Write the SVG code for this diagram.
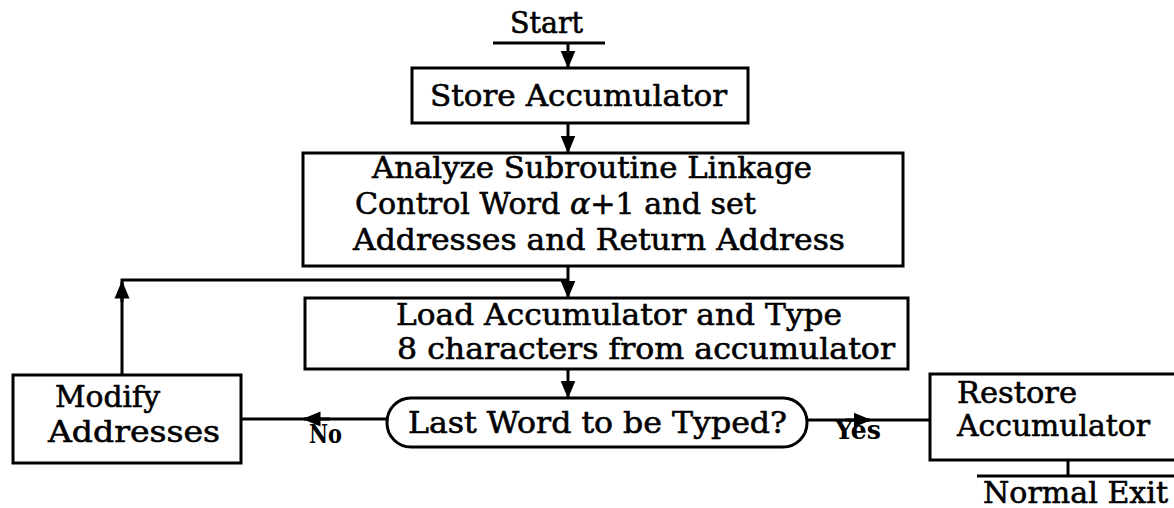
<svg xmlns="http://www.w3.org/2000/svg" width="1174" height="508" viewBox="0 0 1174 508">
<style>
.box{fill:#fff;stroke:#000;stroke-width:3}
.t{font-family:"DejaVu Serif","Liberation Serif",serif;font-size:30px;fill:#000;stroke:#000;stroke-width:0.6}
.lbl{font-family:"DejaVu Serif","Liberation Serif",serif;font-size:26px;font-weight:bold;fill:#000}
.c{stroke:#000;stroke-width:3;fill:none}
</style>
<defs>
<marker id="ah" viewBox="0 0 12 12" refX="11" refY="6" markerWidth="6" markerHeight="6" orient="auto" markerUnits="strokeWidth">
<path d="M0,1 L12,6 L0,11 z" fill="#000"/>
</marker>
</defs>
<rect width="1174" height="508" fill="#fff"/>
<g id="connectors">
<line class="c" x1="568" y1="43" x2="568" y2="67" marker-end="url(#ah)"/>
<line class="c" x1="568" y1="123" x2="568" y2="152" marker-end="url(#ah)"/>
<line class="c" x1="568" y1="266" x2="568" y2="297" marker-end="url(#ah)"/>
<polyline class="c" points="122,375 122,280 568,280"/>
<line class="c" x1="122" y1="302" x2="122" y2="282" marker-end="url(#ah)"/>
<line class="c" x1="568" y1="369" x2="568" y2="397" marker-end="url(#ah)"/>
<line class="c" x1="387" y1="419" x2="241" y2="419"/>
<line class="c" x1="330" y1="419" x2="304" y2="419" marker-end="url(#ah)"/>
<line class="c" x1="807" y1="420" x2="930" y2="420"/>
<line class="c" x1="845" y1="420" x2="870" y2="420" marker-end="url(#ah)"/>
<line class="c" x1="1068" y1="460" x2="1068" y2="476"/>
<text class="lbl" x="309" y="443" textLength="33" lengthAdjust="spacingAndGlyphs">No</text>
<text class="lbl" x="835" y="439" textLength="46" lengthAdjust="spacingAndGlyphs">Yes</text>
</g>
<g id="start">
<text class="t" x="510" y="33" font-size="26" textLength="73" lengthAdjust="spacingAndGlyphs">Start</text>
<line class="c" x1="493" y1="43" x2="605" y2="43"/>
</g>
<g id="store">
<rect class="box" x="412" y="68" width="336" height="55"/>
<text class="t" x="430" y="106" textLength="297" lengthAdjust="spacingAndGlyphs">Store Accumulator</text>
</g>
<g id="analyze">
<rect class="box" x="303" y="153" width="600" height="113"/>
<text class="t" x="372" y="178" textLength="440" lengthAdjust="spacingAndGlyphs">Analyze Subroutine Linkage</text>
<text class="t" x="355" y="214" textLength="401" lengthAdjust="spacingAndGlyphs">Control Word <tspan font-style="italic">α</tspan>+1 and set</text>
<text class="t" x="353" y="250" textLength="492" lengthAdjust="spacingAndGlyphs">Addresses and Return Address</text>
</g>
<g id="load">
<rect class="box" x="305" y="298" width="603" height="71"/>
<text class="t" x="396" y="325" textLength="446" lengthAdjust="spacingAndGlyphs">Load Accumulator and Type</text>
<text class="t" x="397" y="359" textLength="498" lengthAdjust="spacingAndGlyphs">8 characters from accumulator</text>
</g>
<g id="decision">
<rect class="box" x="387" y="398" width="420" height="49" rx="24" ry="24" stroke-width="3.5"/>
<text class="t" x="408" y="433" textLength="379" lengthAdjust="spacingAndGlyphs">Last Word to be Typed?</text>
</g>
<g id="modify">
<rect class="box" x="13" y="375" width="228" height="88"/>
<text class="t" x="55" y="407" textLength="105" lengthAdjust="spacingAndGlyphs">Modify</text>
<text class="t" x="48" y="442" textLength="172" lengthAdjust="spacingAndGlyphs">Addresses</text>
</g>
<g id="restore">
<rect class="box" x="930" y="374" width="250" height="86"/>
<text class="t" x="957" y="403" textLength="120" lengthAdjust="spacingAndGlyphs">Restore</text>
<text class="t" x="957" y="436" textLength="193" lengthAdjust="spacingAndGlyphs">Accumulator</text>
</g>
<g id="exit">
<line class="c" x1="977" y1="476" x2="1174" y2="476"/>
<text class="t" x="983" y="503" textLength="185" lengthAdjust="spacingAndGlyphs">Normal Exit</text>
</g>
</svg>
